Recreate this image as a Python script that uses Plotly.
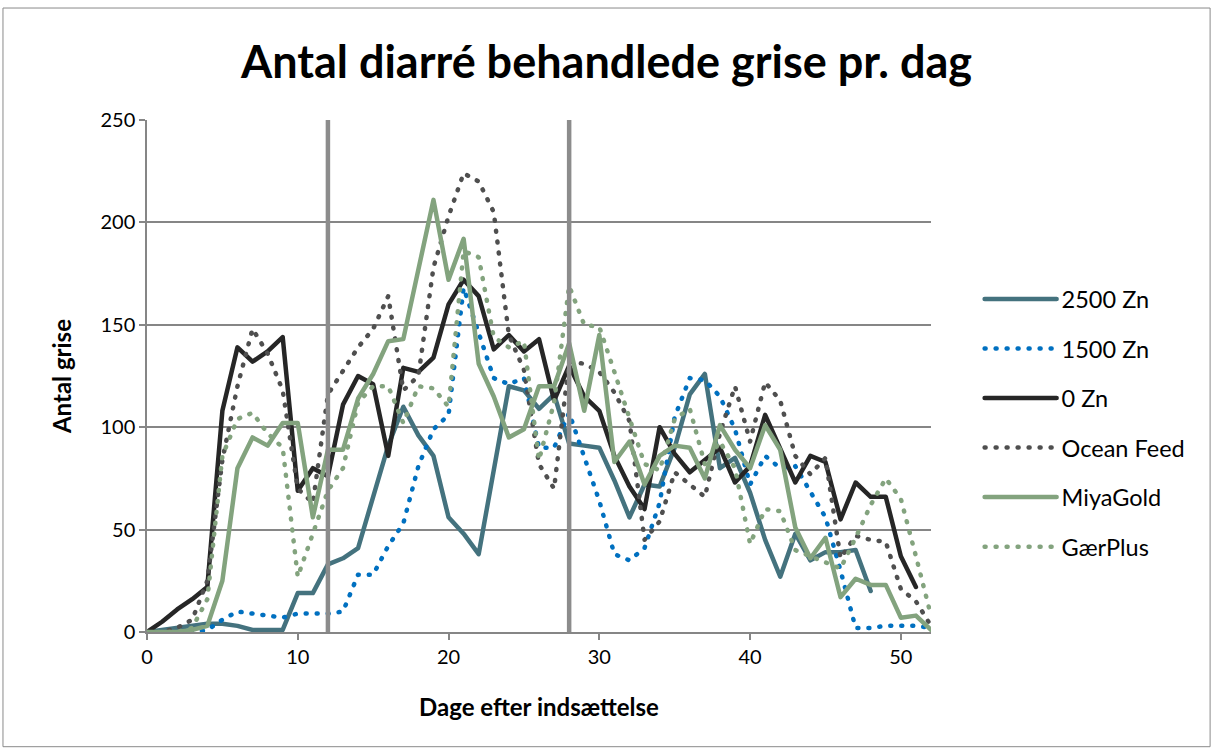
import plotly.graph_objects as go

days = list(range(53))

zn2500 = [0, 1, 2, 3, 4, 4, 3, 1, 1, 1, 19, 19, 33, 36, 41, 66, 91, 110, 96, 86,
          56, 48, 38, 79, 120, 118, 109, 116, 92, 91, 90, 74, 56, 72, 71, 90, 116, 126, 80, 85,
          68, 45, 27, 48, 35, 39, 39, 40, 20, None, None, None, None]

zn1500 = [0, 0, 0, 0, 1, 6, 10, 9, 8, 7, 9, 9, 9, 10, 28, 28, 42, 53, 81, 99,
          106, 168, 146, 124, 121, 124, 90, 90, 107, 86, 64, 38, 35, 41, 63, 105, 124, 123, 115, 99,
          72, 86, 80, 81, 68, 56, 30, 2, 2, 3, 3, 3, 2]

zn0 = [0, 5, 11, 16, 22, 108, 139, 132, 137, 144, 69, 80, 76, 111, 125, 121, 86, 129, 127, 134,
       160, 172, 164, 138, 145, 137, 143, 113, 130, 115, 108, 86, 71, 60, 100, 87, 78, 84, 90, 73,
       81, 106, 89, 73, 86, 83, 55, 73, 66, 66, 37, 22, None]

ocean = [0, 0, 2, 6, 25, 84, 120, 148, 136, 118, 70, 63, 116, 128, 139, 148, 164, 118, 125, 178,
         203, 224, 220, 205, 145, 128, 82, 70, 132, 131, 127, 117, 103, 45, 54, 78, 72, 66, 97, 120,
         93, 122, 113, 86, 77, 85, 36, 47, 45, 44, 21, 15, 3]

miya = [0, 0, 0, 1, 3, 25, 80, 95, 91, 102, 102, 56, 89, 89, 114, 126, 142, 143, 177, 211,
        172, 192, 131, 115, 95, 99, 120, 120, 141, 108, 145, 83, 93, 72, 86, 91, 90, 75, 101, 89,
        80, 101, 89, 51, 36, 46, 17, 26, 23, 23, 7, 8, 1]

gaer = [0, 0, 0, 2, 16, 86, 104, 107, 97, 90, 27, 48, 69, 80, 112, 120, 120, 102, 120, 119,
        110, 186, 183, 144, 139, 142, 84, 112, 169, 150, 149, 127, 105, 82, 79, 104, 109, 82, 93, 80,
        43, 60, 59, 40, 37, 34, 31, 46, 62, 75, 65, 37, 8]

series_names = ["2500 Zn", "1500 Zn", "0 Zn", "Ocean Feed", "MiyaGold", "GærPlus"]
series_values = [zn2500, zn1500, zn0, ocean, miya, gaer]
series_colors = ["#44727E", "#0070C0", "#262626", "#4F4F4F", "#83A37E", "#83A37E"]
series_dash = ["solid", "1px,10px", "solid", "1px,10px", "solid", "1px,10px"]

marker_days = [12, 28]
y_range = [0, 250]
x_ticks = [0, 10, 20, 30, 40, 50]
y_ticks = [0, 50, 100, 150, 200, 250]

font_family = "Lato, 'Open Sans', sans-serif"

fig = go.Figure()
for i, (name, vals, col, dash) in enumerate(zip(series_names, series_values, series_colors, series_dash)):
    fig.add_trace(go.Scatter(
        x=days, y=vals, name=name, mode="lines",
        line=dict(color=col, width=4.5, dash=dash),
        legendgroup=f"g{i}", connectgaps=False,
    ))

for d in marker_days:
    fig.add_shape(type="line", xref="x", yref="y", x0=d, x1=d, y0=y_range[0], y1=y_range[1],
                  line=dict(color="#8C8C8C", width=4.5), layer="above")

# outer chart border
fig.add_shape(type="rect", xref="paper", yref="paper",
              x0=-0.1837, x1=1.356, y0=-0.224, y1=1.2187,
              line=dict(color="#8A8A8A", width=1), layer="below")

fig.update_layout(
    width=1213, height=749,
    margin=dict(l=147, r=282, t=120, b=117),
    paper_bgcolor="white", plot_bgcolor="white",
    font=dict(family=font_family, size=20, color="#000000"),
    title=dict(text="<b>Antal diarré behandlede grise pr. dag</b>",
               x=0.5, xref="container", xanchor="center",
               y=1 - 62 / 749, yref="container", yanchor="middle",
               font=dict(size=45, family=font_family, color="#000000")),
    showlegend=True,
    legend=dict(x=1.062, y=0.408, xanchor="left", yanchor="middle",
                font=dict(size=23.5, family=font_family),
                traceorder="grouped", tracegroupgap=16, itemwidth=72,
                bgcolor="rgba(0,0,0,0)"),
)

fig.update_xaxes(range=[0, 52], tickvals=x_ticks, showgrid=False, zeroline=False,
                 showline=True, linecolor="#868686", linewidth=1.5,
                 ticks="outside", ticklen=6, tickcolor="#868686", tickwidth=1.5,
                 title=dict(text="<b>Dage efter indsættelse</b>", font=dict(size=24), standoff=32))
fig.update_yaxes(range=y_range, tickvals=y_ticks, showgrid=True, gridcolor="#868686", gridwidth=1.5,
                 zeroline=False, showline=True, linecolor="#868686", linewidth=1.5,
                 ticks="outside", ticklen=6, tickcolor="#868686", tickwidth=1.5,
                 title=dict(text="<b>Antal grise</b>", font=dict(size=24), standoff=22))

fig.write_html("out.html", config={"displayModeBar": False})

# remove the default browser body margin and give line dashes round caps (dotted look)
with open("out.html", "r", encoding="utf-8") as f:
    html = f.read()
html = html.replace(
    "<head>",
    "<head><style>html,body{margin:0;padding:0;}"
    "path.js-line{stroke-linecap:round;stroke-linejoin:round;}</style>",
    1,
)
with open("out.html", "w", encoding="utf-8") as f:
    f.write(html)
